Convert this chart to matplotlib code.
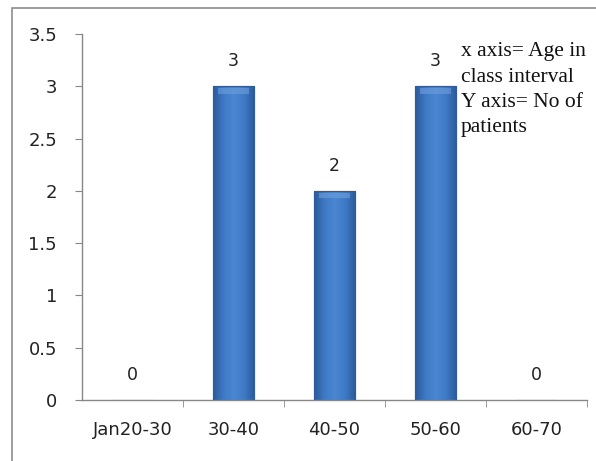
import numpy as np
import matplotlib.pyplot as plt
from matplotlib.patches import Rectangle
from matplotlib.colors import LinearSegmentedColormap

# data
age_groups = ["Jan20-30", "30-40", "40-50", "50-60", "60-70"]
patients = [0, 3, 2, 3, 0]
y_ticks = [0, 0.5, 1, 1.5, 2, 2.5, 3, 3.5]
y_tick_labels = ["0", "0.5", "1", "1.5", "2", "2.5", "3", "3.5"]

fig = plt.figure(figsize=(5.96, 4.61), dpi=100)
ax = fig.add_axes([0.1376, 0.1323, 0.8474, 0.7937])

# outer chart-area frame (cropped on the right/bottom like the original)
fig.patches.append(Rectangle((0.02, -0.1), 1.2, 1.083, transform=fig.transFigure,
                             fill=False, edgecolor="#8c8c8c", linewidth=1.2))

x = np.arange(len(age_groups))
bar_w = 0.41
bars = ax.bar(x, patients, width=bar_w, color="#3a73c0", edgecolor="#2d5d9e",
              linewidth=0.8, zorder=2)

# horizontal shading inside each bar (darker edges, lighter centre)
cmap = LinearSegmentedColormap.from_list(
    "bevel", ["#2a5a9a", "#3f7ac6", "#4a86d2", "#3f7ac6", "#2a5a9a"])
grad = np.linspace(0, 1, 64).reshape(1, -1)
for b in bars:
    h = b.get_height()
    if h <= 0:
        continue
    x0 = b.get_x()
    w = b.get_width()
    im = ax.imshow(grad, cmap=cmap, aspect="auto", extent=(x0, x0 + w, 0, h),
                   zorder=2.5, interpolation="bicubic")
    im.set_clip_path(b)
    # lighter bevel strip at the top
    ax.add_patch(Rectangle((x0 + w * 0.12, h - 0.07), w * 0.76, 0.05,
                           facecolor="#6f9fdc", edgecolor="none", alpha=0.6, zorder=3))
    ax.add_patch(Rectangle((x0, 0), w, h, fill=False, edgecolor="#2d5d9e",
                           linewidth=0.8, zorder=3.5))

# data labels
for xi, v in zip(x, patients):
    ax.text(xi, v + 0.24, str(v), ha="center", va="center", fontsize=12.5,
            color="#222222", family="DejaVu Sans")

ax.set_xlim(-0.5, len(age_groups) - 0.5)
ax.set_ylim(0, 3.5)
ax.set_yticks(y_ticks)
ax.set_yticklabels(y_tick_labels)
ax.set_xticks(x)
ax.set_xticklabels(age_groups)
ax.set_xticks(np.arange(0.5, len(age_groups)), minor=True)

ax.tick_params(axis="y", direction="out", length=5, color="#888888",
               labelsize=13, labelcolor="#222222", pad=13)
ax.tick_params(axis="x", which="major", length=0, labelsize=13,
               labelcolor="#222222", pad=15)
ax.tick_params(axis="x", which="minor", direction="out", length=5, color="#888888")

for side in ["top", "right"]:
    ax.spines[side].set_visible(False)
for side in ["left", "bottom"]:
    ax.spines[side].set_color("#888888")
    ax.spines[side].set_linewidth(1.0)

ax.text(3.25, 3.42, "x axis= Age in\nclass interval\nY axis= No of\npatients",
        ha="left", va="top", fontsize=15.5, family="Liberation Serif",
        color="#111111", linespacing=1.45)

plt.savefig("out.png", dpi=100)
plt.close()
